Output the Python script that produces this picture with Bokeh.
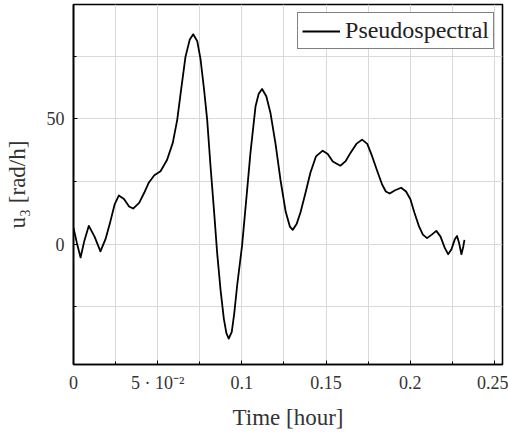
from bokeh.plotting import figure
from bokeh.models import FixedTicker, Range1d, Legend, LegendItem
from bokeh.embed import file_html
from bokeh.resources import INLINE

# ---- data ----
time_h = [0.0000, 0.0020, 0.0042, 0.0065, 0.0091, 0.0125, 0.0160, 0.0190, 0.0215, 0.0245,
          0.0269, 0.0300, 0.0330, 0.0354, 0.0390, 0.0420, 0.0447, 0.0480, 0.0517, 0.0556,
          0.0590, 0.0616, 0.0640, 0.0665, 0.0690, 0.0711, 0.0735, 0.0754, 0.0775, 0.0794,
          0.0814, 0.0835, 0.0853, 0.0873, 0.0893, 0.0908, 0.0922, 0.0940, 0.0955, 0.0972,
          0.1001, 0.1025, 0.1051, 0.1081, 0.1100, 0.1120, 0.1145, 0.1170, 0.1200, 0.1229,
          0.1260, 0.1285, 0.1302, 0.1325, 0.1348, 0.1380, 0.1407, 0.1440, 0.1480, 0.1510,
          0.1540, 0.1585, 0.1615, 0.1645, 0.1680, 0.1714, 0.1745, 0.1774, 0.1805, 0.1833,
          0.1855, 0.1878, 0.1910, 0.1946, 0.1975, 0.2001, 0.2025, 0.2051, 0.2075, 0.2100,
          0.2128, 0.2155, 0.2180, 0.2205, 0.2225, 0.2245, 0.2265, 0.2278, 0.2290, 0.2304,
          0.2315, 0.2322]
u3 = [6.5, 0.5, -5.3, 1.5, 7.3, 3.0, -2.9, 2.0, 8.0, 16.0,
      19.4, 18.0, 15.0, 14.2, 16.5, 20.5, 24.5, 27.5, 29.1, 33.7,
      40.5, 49.6, 62.0, 74.7, 81.5, 83.7, 81.0, 74.0, 62.0, 49.6,
      31.0, 13.0, -3.3, -18.0, -29.8, -35.5, -37.7, -35.0, -27.5, -16.5,
      -0.7, 17.0, 36.4, 54.9, 60.0, 61.9, 59.0, 52.3, 40.0, 25.8,
      13.0, 7.0, 5.7, 8.0, 12.6, 21.0, 28.5, 35.0, 37.3, 36.0,
      33.0, 31.3, 33.0, 36.4, 40.0, 41.7, 40.0, 35.0, 29.0, 23.8,
      21.0, 20.2, 21.5, 22.5, 21.0, 17.9, 12.5, 7.3, 3.8, 2.4,
      3.8, 5.3, 3.0, -1.5, -4.0, -2.0, 2.0, 3.3, 0.5, -4.0,
      -1.0, 1.7]

x_major = [0.0, 0.05, 0.1, 0.15, 0.2, 0.25]
x_minor = [0.025, 0.075, 0.125, 0.175, 0.225]
x_labels = ["0", "5 · 10⁻²", "0.1", "0.15", "0.2", "0.25"]
y_major = [0, 50]
y_minor = [-25, 25, 75]
series_name = "Pseudospectral"

FONT = "Liberation Serif"

p = figure(width=508, height=432, output_backend="svg", toolbar_location=None,
           x_range=Range1d(0, 0.2548), y_range=Range1d(-48, 95.6))
p.min_border_left = 73
p.min_border_right = 6
p.min_border_top = 4
p.min_border_bottom = 66
p.background_fill_color = "white"
p.border_fill_color = "white"
p.outline_line_color = "black"
p.outline_line_width = 1.6

r = p.line(time_h, u3, line_color="black", line_width=1.8, line_join="round")

p.xaxis.ticker = FixedTicker(ticks=x_major, minor_ticks=x_minor)
p.yaxis.ticker = FixedTicker(ticks=y_major, minor_ticks=y_minor)
p.xaxis.major_label_overrides = {t: l for t, l in zip(x_major, x_labels)}

for g in (p.xgrid, p.ygrid):
    g.grid_line_color = "#d9d9d9"
    g.grid_line_width = 1
    g.minor_grid_line_color = "#d9d9d9"
    g.minor_grid_line_width = 1

for ax in (p.xaxis, p.yaxis):
    ax.axis_line_color = "black"
    ax.axis_line_width = 1.6
    ax.major_tick_in = 4
    ax.major_tick_out = 0
    ax.minor_tick_in = 3
    ax.minor_tick_out = 0
    ax.major_tick_line_color = "black"
    ax.minor_tick_line_color = "black"
    ax.major_label_text_font = FONT
    ax.major_label_text_font_size = "18px"
    ax.major_label_text_color = "#333333"
    ax.axis_label_text_font = FONT
    ax.axis_label_text_font_size = "23px"
    ax.axis_label_text_font_style = "normal"
    ax.axis_label_text_color = "#333333"

p.xaxis.axis_label = "Time [hour]"
p.yaxis.axis_label = "u₃ [rad/h]"
p.xaxis.major_label_standoff = 8
p.yaxis.major_label_standoff = 9
p.xaxis.axis_label_standoff = 9
p.yaxis.axis_label_standoff = 14

legend = Legend(items=[LegendItem(label=series_name, renderers=[r])],
                location="top_right")
legend.label_text_font = FONT
legend.label_text_font_size = "24px"
legend.label_text_color = "#222222"
legend.border_line_color = "black"
legend.border_line_width = 1.6
legend.background_fill_alpha = 1.0
legend.glyph_width = 38
legend.label_standoff = 5
legend.padding = 4
legend.margin = 8
p.add_layout(legend)

open("out.html", "w").write(file_html(p, INLINE))
